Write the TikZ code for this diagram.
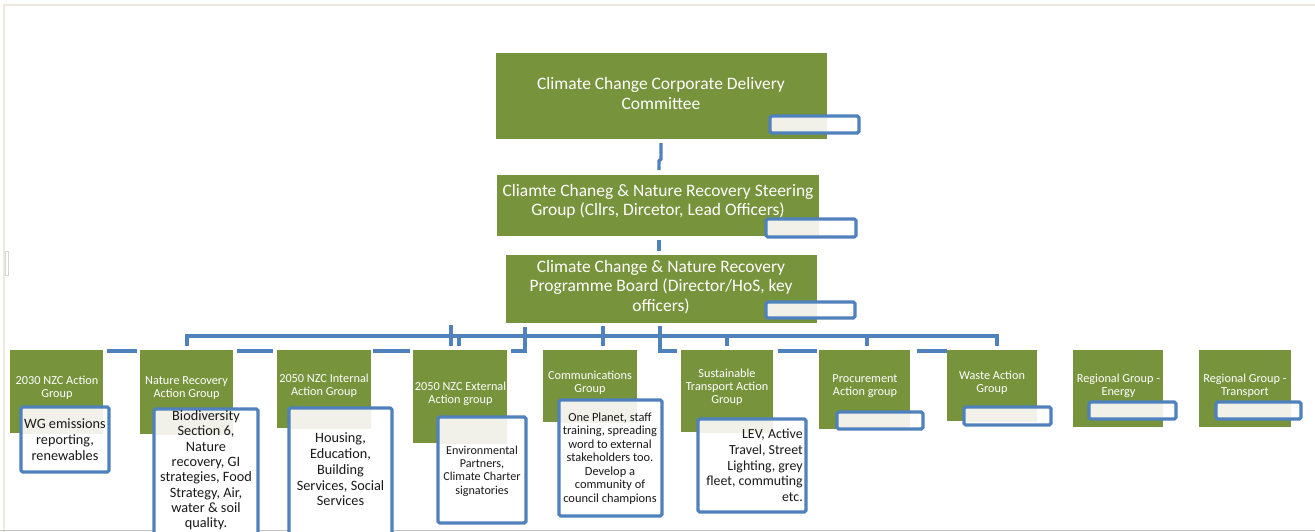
\documentclass[tikz,border=0pt]{standalone}
\usepackage{fontspec}
\setmainfont{Carlito}
\definecolor{grn}{HTML}{77933C}
\definecolor{bl}{HTML}{4F81BD}
\definecolor{bgc}{HTML}{F1F1EA}
\definecolor{framec}{HTML}{EDE9DF}
\definecolor{greyc}{HTML}{C4C4C4}
\newcommand\GBox[5]{\node[gbox, minimum width={(#4-#2)*0.75pt}, minimum height={(#5-#3)*0.75pt}] (#1) at ({(#2+#4)/2},{(#3+#5)/2}) {};}
\newcommand\OBox[6]{%
  \node[wbox, minimum width={(#5-#3)*0.75pt}, minimum height={(#6-#4)*0.75pt}] (#1) at ({(#3+#5)/2},{(#4+#6)/2}) {};
  \begin{scope}\clip (#2.south west) rectangle (#2.north east);
  \fill[bgc] (#1.south west) rectangle (#1.north east);\end{scope}
  \draw[bord] (#1.south west) rectangle (#1.north east);}
\begin{document}
\begin{tikzpicture}[x={(0.75pt,0)}, y={(0,-0.75pt)},
  gbox/.style={fill=grn, draw=none, inner sep=0, outer sep=0},
  wbox/.style={fill=white, draw=none, inner sep=0, outer sep=0},
  bord/.style={draw=bl, line width=2.4pt, rounded corners=1.2pt},
  conn/.style={draw=bl, line width=2.6pt},
  bigt/.style={text=white, align=center, inner sep=0, font=\fontsize{13.1}{14.5}\selectfont},
  gt/.style={text=white, align=center, inner sep=0, font=\fontsize{9.2}{9.8}\selectfont},
  dt/.style={text=black!90, align=center, inner sep=0}]
\useasboundingbox (0,0) rectangle (1315,532);
\fill[white] (0,0) rectangle (1315,532);
% frame
\draw[framec, line width=1.6pt] (3,5) -- (1315,5);
\draw[framec, line width=1.6pt] (4,5) -- (4,532);
\draw[greyc, line width=1.4pt] (0,530.5) -- (1315,530.5);
\draw[greyc!70, line width=0.6pt] (5,251) rectangle (8,275);
\draw[greyc, line width=1.2pt] (656,533) arc (180:0:7);
% top tiers
\GBox{top}{496}{53}{827}{139}
\GBox{steer}{497}{175}{819}{236}
\GBox{board}{506}{255}{817}{323}
\node[bigt] (topt) at (661,93.5) {Climate Change Corporate Delivery\\Committee};
\node[bigt] (steert) at (658,201.5) {Cliamte Chaneg \& Nature Recovery Steering\\Group (Cllrs, Dircetor, Lead Officers)};
\node[bigt] (boardt) at (661,287) {Climate Change \& Nature Recovery\\Programme Board (Director/HoS, key\\officers)};
\OBox{l0}{top}{770}{116}{859}{133}
\OBox{l1}{steer}{766}{219}{856}{237}
\OBox{l2}{board}{766}{302}{855}{318}
% connectors top
\draw[conn] (top.south -| 661,0) ++(0,4) -- (661,159) -- (659,161) -- (659,170);
\draw[conn] (steer.south -| 659,0) ++(0,4) -- (659,251);
\draw[conn] (board.south -| 660,0) ++(0,3) -- (660,351) -- (677,351);
% bus
\draw[conn] (187,346) -- (187,336) -- (997,336) -- (997,346);
\draw[conn] (451,325) -- (451,346);
\draw[conn] (459,336) -- (459,346);
\draw[conn] (525,327) -- (525,351) -- (511,351);
\draw[conn] (603,326) -- (603,346);
\draw[conn] (727,336) -- (727,346);
\draw[conn] (867,336) -- (867,346);
\draw[conn] (107,351) -- (137,351);
\draw[conn] (237,351) -- (273,351);
\draw[conn] (373,351) -- (410,351);
\draw[conn] (778,351) -- (817,351);
\draw[conn] (917,351) -- (947,351);
% groups
\GBox{b1}{10}{350}{103}{433}
\GBox{b2}{140}{350}{233}{434}
\GBox{b3}{277}{350}{371}{428}
\GBox{b4}{413}{350}{507}{443}
\GBox{b5}{543}{350}{637}{422}
\GBox{b6}{681}{350}{773}{432}
\GBox{b7}{819}{350}{910}{429}
\GBox{b8}{947}{350}{1037}{421}
\GBox{b9}{1073}{350}{1163}{427}
\GBox{b10}{1199}{350}{1291}{427}
\node[gt] (b1t) at (57,387.5) {2030 NZC Action\\Group};
\node[gt] (b2t) at (186.5,388.5) {Nature Recovery\\Action Group};
\node[gt] (b3t) at (324,386) {2050 NZC Internal\\Action Group};
\node[gt] (b4t) at (460.5,393.5) {2050 NZC External\\Action group};
\node[gt] (b5t) at (590,382.5) {Communications\\Group};
\node[gt] (b6t) at (727,387.5) {Sustainable\\Transport Action\\Group};
\node[gt] (b7t) at (865,386) {Procurement\\Action group};
\node[gt] (b8t) at (992,382.5) {Waste Action\\Group};
\node[gt] (b9t) at (1118.5,385.5) {Regional Group -\\Energy};
\node[gt] (b10t) at (1245,385.5) {Regional Group -\\Transport};
% description boxes
\OBox{d1}{b1}{21}{407}{109}{472}
\OBox{d2}{b2}{154}{409}{258}{545}
\OBox{d3}{b3}{289}{408}{392}{545}
\OBox{d4}{b4}{438}{417}{526}{523}
\OBox{d5}{b5}{559}{400}{662}{516}
\OBox{d6}{b6}{698}{419}{806}{512}
\OBox{l7}{b7}{837}{412}{923}{429}
\OBox{l8}{b8}{964}{407}{1051}{425}
\OBox{l9}{b9}{1089}{402}{1176}{419}
\OBox{l10}{b10}{1216}{402}{1301}{419}
\node[dt, font=\fontsize{10.7}{12}\selectfont] (d1t) at (65,439.5) {WG emissions\\reporting,\\renewables};
\node[dt, font=\fontsize{10.7}{11.5}\selectfont] (d2t) at (206,470.5) {Biodiversity\\Section 6,\\Nature\\recovery, GI\\strategies, Food\\Strategy, Air,\\water \& soil\\quality.};
\node[dt, font=\fontsize{10.7}{11.8}\selectfont] (d3t) at (340.5,469.5) {Housing,\\Education,\\Building\\Services, Social\\Services};
\node[dt, font=\fontsize{9.1}{10}\selectfont] (d4t) at (482,471) {Environmental\\Partners,\\Climate Charter\\signatories};
\node[dt, font=\fontsize{9.3}{10.1}\selectfont] (d5t) at (610,458.5) {One Planet, staff\\training, spreading\\word to external\\stakeholders too.\\Develop a\\community of\\council champions};
\node[dt, align=right, anchor=east, font=\fontsize{10.4}{11.8}\selectfont] (d6t) at (803,465.5) {LEV, Active\\Travel, Street\\Lighting, grey\\fleet, commuting\\etc.};
\end{tikzpicture}
\end{document}
